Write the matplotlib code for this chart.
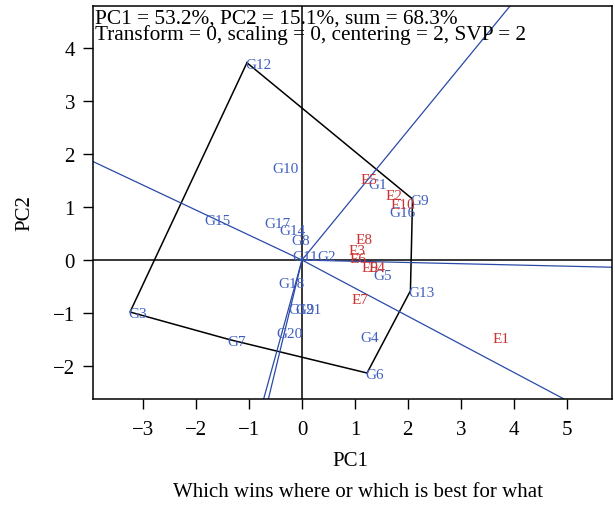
import matplotlib
matplotlib.use('Agg')
import matplotlib.pyplot as plt
from matplotlib.transforms import offset_copy
import numpy as np

# ---- data ----
gen_labels = ['G1', 'G2', 'G3', 'G4', 'G5', 'G6', 'G7', 'G8', 'G9', 'G10', 'G11',
              'G12', 'G13', 'G14', 'G15', 'G16', 'G17', 'G18', 'G19', 'G20', 'G21']
gen_x = [1.29, 0.32, -3.25, 1.15, 1.39, 1.23, -1.37, -0.17, 2.09, -0.52, -0.14,
         -1.04, 2.05, -0.39, -1.80, 1.69, -0.68, -0.41, -0.21, -0.45, -0.08]
gen_y = [1.45, 0.09, -0.98, -1.44, -0.26, -2.13, -1.50, 0.40, 1.15, 1.75, 0.09,
         3.72, -0.58, 0.58, 0.77, 0.92, 0.72, -0.42, -0.90, -1.36, -0.90]

env_labels = ['E1', 'E2', 'E3', 'E4', 'E5', 'E6', 'E7', 'E8', 'E9', 'E10']
env_x = [3.64, 1.61, 0.91, 1.29, 1.15, 0.93, 0.98, 1.05, 1.17, 1.72]
env_y = [-1.46, 1.25, 0.21, -0.12, 1.55, 0.05, -0.72, 0.42, -0.12, 1.07]

hull_labels = ['G12', 'G9', 'G13', 'G6', 'G7', 'G3']

header1 = 'PC1 = 53.2%, PC2 = 15.1%, sum = 68.3%'
header2 = 'Transform = 0, scaling = 0, centering = 2, SVP = 2'
x_ticks = [-3, -2, -1, 0, 1, 2, 3, 4, 5]
y_ticks = [-2, -1, 0, 1, 2, 3, 4]
caption = 'Which wins where or which is best for what'

# ---- style ----
plt.rcParams['font.family'] = ['Liberation Serif', 'DejaVu Serif']
plt.rcParams['axes.unicode_minus'] = True
BLUE_TXT = '#3f5fbf'
BLUE_LN = '#2a4aa8'
RED_TXT = '#cc3333'

W, H = 615, 506
fig = plt.figure(figsize=(W / 100, H / 100), dpi=100)
L, R, T, B = 93, 612, 7, 400
ax = fig.add_axes([L / W, 1 - B / H, (R - L) / W, (B - T) / H])
xlim = (-3.95, 5.86)
ylim = (-2.62, 4.79)
ax.set_xlim(*xlim)
ax.set_ylim(*ylim)

# axes through origin
ax.axhline(0, color='black', lw=1.1, zorder=1)
ax.axvline(0, color='black', lw=1.1, zorder=1)

# polygon
pos = {l: (x, y) for l, x, y in zip(gen_labels, gen_x, gen_y)}
hx = [pos[l][0] for l in hull_labels] + [pos[hull_labels[0]][0]]
hy = [pos[l][1] for l in hull_labels] + [pos[hull_labels[0]][1]]
ax.plot(hx, hy, color='black', lw=1.1, zorder=2)

# rays perpendicular to polygon edges, from origin to plot border
for i in range(len(hull_labels)):
    a = np.array(pos[hull_labels[i]])
    b = np.array(pos[hull_labels[(i + 1) % len(hull_labels)]])
    d = b - a
    t = -np.dot(a, d) / np.dot(d, d)
    foot = a + t * d
    u = foot / np.linalg.norm(foot)
    ts = []
    if u[0] > 0: ts.append(xlim[1] / u[0])
    if u[0] < 0: ts.append(xlim[0] / u[0])
    if u[1] > 0: ts.append(ylim[1] / u[1])
    if u[1] < 0: ts.append(ylim[0] / u[1])
    s = min(ts)
    ax.plot([0, u[0] * s], [0, u[1] * s], color=BLUE_LN, lw=0.9, zorder=2)

# labels
tr = offset_copy(ax.transData, fig=fig, x=-2, y=-1.5, units='dots')
for l, x, y in zip(gen_labels, gen_x, gen_y):
    ax.text(x, y, l, color=BLUE_TXT, fontsize=11, ha='left', va='center',
            transform=tr, zorder=3)
for l, x, y in zip(env_labels, env_x, env_y):
    ax.text(x, y, l, color=RED_TXT, fontsize=11, ha='left', va='center',
            transform=tr, zorder=3)

# header
ax.text(0.004, 0.993, header1, transform=ax.transAxes, fontsize=15.3,
        ha='left', va='top', zorder=4)
ax.text(0.004, 0.953, header2, transform=ax.transAxes, fontsize=15.3,
        ha='left', va='top', zorder=4)

ax.set_xticks(x_ticks)
ax.set_yticks(y_ticks)
ax.tick_params(direction='out', length=7, width=1.0, labelsize=15, pad=6)
ax.tick_params(axis='x', pad=8)
for sp in ax.spines.values():
    sp.set_linewidth(1.1)

ax.set_xlabel('PC1', fontsize=15)
ax.xaxis.set_label_coords((350 - L) / (R - L), (B - 452) / (B - T))
ax.set_ylabel('PC2', fontsize=15)
ax.yaxis.set_label_coords((34 - L) / (R - L), (B - 213) / (B - T))

fig.text(358 / W, 1 - 493 / H, caption, fontsize=15, ha='center', va='center')

fig.savefig('out.png', dpi=100)
